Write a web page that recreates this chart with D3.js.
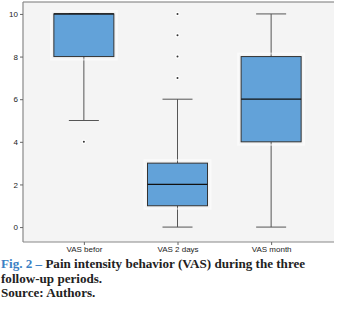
<!DOCTYPE html>
<html><head><meta charset="utf-8">
<script src="https://cdn.jsdelivr.net/npm/d3@7"></script>
<style>body{margin:0;background:#fff}</style>
</head><body>
<svg id="c" width="337" height="309"></svg>
<script>
const categories = ["VAS befor", "VAS 2 days", "VAS month"];
const q1 = [8, 1, 4];
const medians = [10, 2, 6];
const q3 = [10, 3, 8];
const whiskerLow = [5, 0, 0];
const whiskerHigh = [10, 6, 10];
const outliers = [[4], [7, 8, 9, 10], []];
const yTicks = [0, 2, 4, 6, 8, 10];

const svg = d3.select("#c");
const L = 23, R = 334, T = 2, B = 242;
const y = d3.scaleLinear().domain([-0.7, 10.56]).range([B, T]);
const x = d3.scalePoint().domain(categories).range([L, 332]).padding(0.65);

svg.append("rect").attr("x", L).attr("y", T).attr("width", R - L).attr("height", B - T).attr("fill", "#f4f4f4");
svg.append("line").attr("x1", L).attr("x2", R).attr("y1", T).attr("y2", T).attr("stroke", "#777").attr("stroke-width", 1.2);

const yAxis = svg.append("g").attr("transform", `translate(${L},0)`)
  .call(d3.axisLeft(y).tickValues(yTicks).tickSize(3).tickPadding(2));
const xAxis = svg.append("g").attr("transform", `translate(0,${B})`)
  .call(d3.axisBottom(x).tickSize(3).tickPadding(1));
[yAxis, xAxis].forEach(a => {
  a.select(".domain").attr("stroke", "#888").attr("stroke-width", 1.2);
  a.selectAll(".tick line").attr("stroke", "#666");
  a.selectAll("text").attr("font-family", "Liberation Sans, Arial, sans-serif").attr("font-size", 8).attr("fill", "#222");
});
yAxis.select(".domain").attr("d", `M0,${B}V${T}`);
xAxis.select(".domain").attr("d", `M${L},0H${R}`);

const bw = 60, cw = 30;
const g = svg.append("g");
categories.forEach((c, i) => {
  const cx = x(c);
  g.append("line").attr("x1", cx).attr("x2", cx).attr("y1", y(whiskerLow[i])).attr("y2", y(q1[i])).attr("stroke", "#555");
  g.append("line").attr("x1", cx).attr("x2", cx).attr("y1", y(whiskerHigh[i])).attr("y2", y(q3[i])).attr("stroke", "#555");
  [whiskerLow[i], whiskerHigh[i]].forEach(v => {
    g.append("line").attr("x1", cx - cw / 2).attr("x2", cx + cw / 2).attr("y1", y(v)).attr("y2", y(v)).attr("stroke", "#555");
  });
  g.append("rect").attr("x", cx - bw / 2 - 3).attr("width", bw + 6)
    .attr("y", y(q3[i]) - 3).attr("height", y(q1[i]) - y(q3[i]) + 6)
    .attr("fill", "none").attr("stroke", "#fff").attr("stroke-width", 2).attr("opacity", 0.5);
  g.append("rect").attr("x", cx - bw / 2).attr("width", bw)
    .attr("y", y(q3[i])).attr("height", y(q1[i]) - y(q3[i]))
    .attr("fill", "#62a2d9").attr("stroke", "#333").attr("stroke-width", 1);
  g.append("line").attr("x1", cx - bw / 2).attr("x2", cx + bw / 2).attr("y1", y(medians[i])).attr("y2", y(medians[i])).attr("stroke", "#111").attr("stroke-width", 1.2);
  outliers[i].forEach(v => {
    g.append("circle").attr("cx", cx).attr("cy", y(v)).attr("r", 2.2).attr("fill", "#fff");
    g.append("circle").attr("cx", cx).attr("cy", y(v)).attr("r", 1).attr("fill", "#333");
  });
});

const cap = svg.append("g").attr("font-family", "Liberation Serif, serif").attr("font-weight", "bold").attr("font-size", 13.1).attr("fill", "#222");
const t1 = cap.append("text").attr("x", 1).attr("y", 268);
t1.append("tspan").attr("fill", "#3b7fc4").text("Fig. 2 – ");
t1.append("tspan").text("Pain intensity behavior (VAS) during the three");
cap.append("text").attr("x", 1).attr("y", 283).text("follow-up periods.");
cap.append("text").attr("x", 1).attr("y", 297).text("Source: Authors.");
</script>
</body></html>
